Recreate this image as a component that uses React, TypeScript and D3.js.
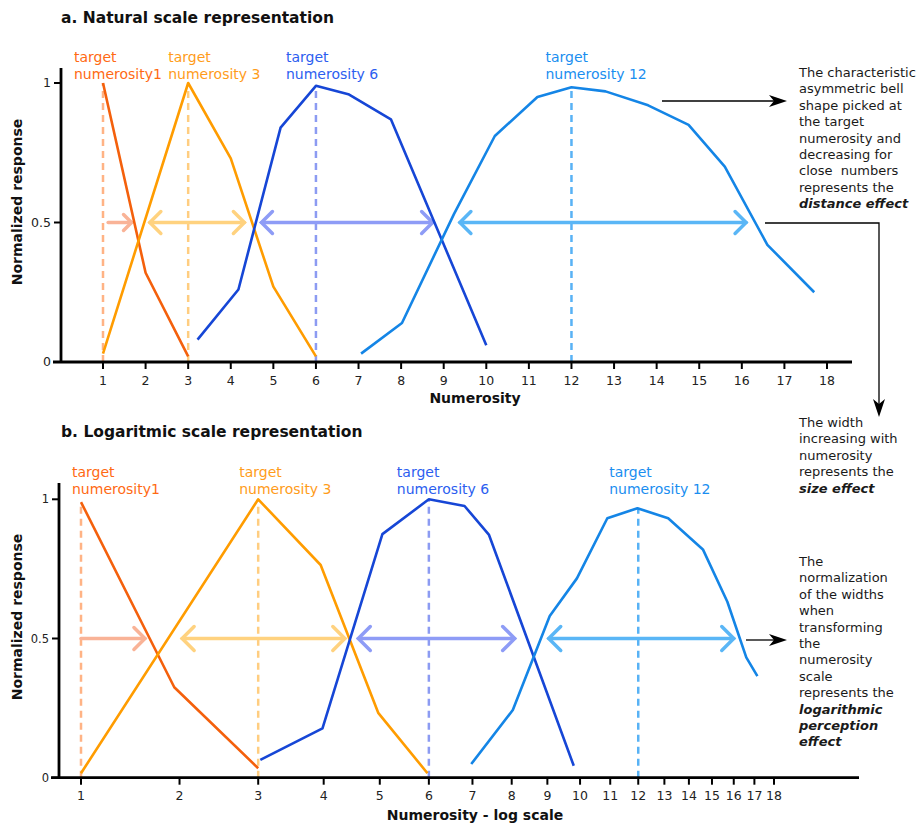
import * as d3 from "d3";

const FONT = "'DejaVu Sans', Verdana, sans-serif";

// --- data ---
const numerosityTicks = [1, 2, 3, 4, 5, 6, 7, 8, 9, 10, 11, 12, 13, 14, 15, 16, 17, 18];
const yTicks = [0, 0.5, 1];
const yTickLabels = ["0", "0.5", "1"];

const targets = [1, 3, 6, 12];
const targetLabels = ["numerosity1", "numerosity 3", "numerosity 6", "numerosity 12"];

// natural scale tuning curves [numerosity, normalized response]
const naturalN1: [number, number][] = [[1, 1], [2, 0.32], [3, 0.02]];
const naturalN3: [number, number][] = [[1, 0.03], [3, 1], [4, 0.73], [5, 0.27], [6, 0.02]];
const naturalN6: [number, number][] = [
  [3.22, 0.08], [4.18, 0.26], [5.17, 0.84], [6, 0.99], [6.76, 0.96], [7.76, 0.87], [10, 0.06],
];
const naturalN12: [number, number][] = [
  [7.06, 0.03], [8.02, 0.14], [9.24, 0.53], [10.2, 0.81], [11.2, 0.95], [12, 0.985],
  [12.8, 0.97], [13.8, 0.92], [14.75, 0.85], [15.6, 0.7], [16.6, 0.42], [17.7, 0.25],
];
// half-height widths (arrows at 0.5)
const naturalSpans: [number, number][] = [[1.12, 1.67], [2.1, 4.32], [4.72, 8.74], [9.38, 16.1]];

// log scale tuning curves
const logN1: [number, number][] = [[1, 0.99], [1.94, 0.325], [3, 0.034]];
const logN3: [number, number][] = [[1, 0.016], [3, 1], [3.95, 0.764], [4.97, 0.233], [5.97, 0.016]];
const logN6: [number, number][] = [
  [3.03, 0.064], [3.98, 0.177], [5.05, 0.875], [6, 1.0], [6.81, 0.976], [7.41, 0.872], [9.8, 0.043],
];
const logN12: [number, number][] = [
  [6.97, 0.049], [8.03, 0.243], [9.07, 0.581], [9.9, 0.716], [10.9, 0.932], [11.97, 0.968],
  [13.15, 0.932], [14.6, 0.82], [15.7, 0.632], [16.6, 0.432], [17.15, 0.365],
];
const logSpans: [number, number][] = [[1, 1.62], [2.03, 4.36], [4.6, 8.08], [9.04, 16.0]];
const doubleHeaded = [false, true, true, true];

const note1 = [
  "The characteristic", "asymmetric bell", "shape picked at", "the target",
  "numerosity and", "decreasing for", "close  numbers", "represents the",
];
const note1Bold = "distance effect";
const note2 = ["The width", "increasing with", "numerosity", "represents the"];
const note2Bold = "size effect";
const note3 = [
  "The", "normalization", "of the widths", "when", "transforming", "the",
  "numerosity", "scale", "represents the",
];
const note3Bold = ["logarithmic", "perception", "effect"];

// --- styles ---
const lineColors = ["#f4600c", "#ff9c00", "#1646d6", "#1485e6"];
const labelColors = ["#ff6a13", "#ff9c1a", "#2c5ef0", "#1a8ef0"];
const dashColors = ["#ffb385", "#ffcd80", "#8c9bf2", "#58b2f5"];
const spanColors = ["#f9b397", "#ffd27f", "#8e9cf6", "#5ab6f6"];

type Scale = (v: number) => number;

function Panel(props: {
  title: string;
  titleY: number;
  xLabel: string;
  x: Scale;
  y: d3.ScaleLinear<number, number>;
  axisX: number;
  axisTop: number;
  axisRight: number;
  tickLabelY: number;
  xLabelY: number;
  yLabelY: number;
  yTickSize: number;
  series: [number, number][][];
  spans: [number, number][];
  labelDx: number[];
  labelY: number;
  headSizes: number[];
}) {
  const { x, y, axisX } = props;
  const y0 = y(0);
  const line = d3
    .line<[number, number]>()
    .x((d) => x(d[0]))
    .y((d) => y(d[1]));

  return (
    <g>
      <text x={61} y={props.titleY} fontFamily={FONT} fontWeight="bold" fontSize={15.5} fill="#111">
        {props.title}
      </text>

      {/* target labels */}
      {targets.map((t, i) => (
        <text
          key={"lab" + t}
          x={x(t) + props.labelDx[i]}
          y={props.labelY}
          fontFamily={FONT}
          fontSize={14}
          fill={labelColors[i]}
        >
          <tspan x={x(t) + props.labelDx[i]}>target</tspan>
          <tspan x={x(t) + props.labelDx[i]} dy={17}>
            {targetLabels[i]}
          </tspan>
        </text>
      ))}

      {/* dashed target lines */}
      {targets.map((t, i) => (
        <line
          key={"dash" + t}
          x1={x(t)}
          x2={x(t)}
          y1={y0}
          y2={y(d3.max(props.series[i], (d) => d[1]) as number)}
          stroke={dashColors[i]}
          strokeWidth={2.5}
          strokeDasharray="7,5"
        />
      ))}

      {/* width arrows at half height */}
      {props.spans.map((s, i) => {
        const ya = y(0.5);
        const xa = x(s[0]);
        const xb = x(s[1]);
        const h = props.headSizes[i];
        return (
          <g key={"span" + i} stroke={spanColors[i]} strokeWidth={3.5} fill="none" strokeLinecap="round">
            <line x1={xa} x2={xb} y1={ya} y2={ya} />
            <polyline points={`${xb - h},${ya - h} ${xb},${ya} ${xb - h},${ya + h}`} />
            {doubleHeaded[i] && (
              <polyline points={`${xa + h},${ya - h} ${xa},${ya} ${xa + h},${ya + h}`} />
            )}
          </g>
        );
      })}

      {/* tuning curves */}
      {props.series.map((s, i) => (
        <path
          key={"curve" + i}
          d={line(s) as string}
          fill="none"
          stroke={lineColors[i]}
          strokeWidth={2.6}
          strokeLinejoin="round"
        />
      ))}

      {/* axes */}
      <line x1={axisX} x2={axisX} y1={props.axisTop} y2={y0} stroke="#000" strokeWidth={2.8} />
      <line x1={axisX - 8} x2={props.axisRight} y1={y0} y2={y0} stroke="#000" strokeWidth={2.8} />
      {yTicks.map((v, i) => (
        <g key={"yt" + v}>
          <line x1={axisX - 7} x2={axisX} y1={y(v)} y2={y(v)} stroke="#000" strokeWidth={2} />
          <text
            x={axisX - 10}
            y={y(v)}
            dy="0.35em"
            textAnchor="end"
            fontFamily={FONT}
            fontSize={props.yTickSize}
            fill="#222"
          >
            {yTickLabels[i]}
          </text>
        </g>
      ))}
      {numerosityTicks.map((v) => (
        <g key={"xt" + v}>
          <line x1={x(v)} x2={x(v)} y1={y0} y2={y0 + 7} stroke="#000" strokeWidth={2} />
          <text
            x={x(v)}
            y={props.tickLabelY}
            textAnchor="middle"
            fontFamily={FONT}
            fontSize={12.5}
            fill="#222"
          >
            {v}
          </text>
        </g>
      ))}
      <text
        x={475}
        y={props.xLabelY}
        textAnchor="middle"
        fontFamily={FONT}
        fontWeight="bold"
        fontSize={14}
        fill="#111"
      >
        {props.xLabel}
      </text>
      <text
        transform={`translate(17,${props.yLabelY}) rotate(-90)`}
        textAnchor="middle"
        dy="0.35em"
        fontFamily={FONT}
        fontWeight="bold"
        fontSize={14}
        fill="#111"
      >
        Normalized response
      </text>
    </g>
  );
}

function Note(props: { x: number; y: number; lines: string[]; bold: string[] }) {
  const lh = 16.4;
  return (
    <text
      x={props.x}
      y={props.y}
      fontFamily={FONT}
      fontSize={13}
      fill="#1a1a1a"
      style={{ whiteSpace: "pre" }}
    >
      {props.lines.map((l, i) => (
        <tspan key={"l" + i} x={props.x} y={props.y + i * lh}>
          {l}
        </tspan>
      ))}
      {props.bold.map((l, i) => (
        <tspan
          key={"b" + i}
          x={props.x}
          y={props.y + (props.lines.length + i) * lh}
          fontWeight="bold"
          fontStyle="italic"
        >
          {l}
        </tspan>
      ))}
    </text>
  );
}

function Dart(props: { x: number; y: number; angle: number }) {
  return (
    <path
      d="M0,0 L-18,-6 L-13,0 L-18,6 Z"
      transform={`translate(${props.x},${props.y}) rotate(${props.angle})`}
      fill="#000"
    />
  );
}

export default function App() {
  const xNatural = d3.scaleLinear().domain([1, 18]).range([103, 827]);
  const yNatural = d3.scaleLinear().domain([0, 1]).range([362, 83]);
  const xLog = d3.scaleSymlog().constant(2.5).domain([1, 18]).range([81, 774]);
  const yLog = d3.scaleLinear().domain([0, 1]).range([777.7, 499.3]);

  return (
    <svg
      width={917}
      height={826}
      viewBox="0 0 917 826"
      style={{ position: "absolute", left: 0, top: 0, background: "#fff" }}
    >
      <rect width={917} height={826} fill="#fff" />
      <Panel
        title="a. Natural scale representation"
        titleY={23}
        xLabel="Numerosity"
        x={xNatural}
        y={yNatural}
        axisX={61}
        axisTop={68}
        axisRight={852}
        tickLabelY={385}
        xLabelY={403}
        yLabelY={202}
        yTickSize={12.5}
        series={[naturalN1, naturalN3, naturalN6, naturalN12]}
        spans={naturalSpans}
        labelDx={[-29, -20, -30, -26]}
        labelY={62}
        headSizes={[8, 11, 11, 11]}
      />
      <Panel
        title="b. Logaritmic scale representation"
        titleY={437}
        xLabel="Numerosity - log scale"
        x={xLog}
        y={yLog}
        axisX={59}
        axisTop={483}
        axisRight={859}
        tickLabelY={800}
        xLabelY={820}
        yLabelY={617}
        yTickSize={11.5}
        series={[logN1, logN3, logN6, logN12]}
        spans={logSpans}
        labelDx={[-9, -19, -32, -29]}
        labelY={477}
        headSizes={[11, 12, 12, 12]}
      />

      <Note x={799} y={77} lines={note1} bold={[note1Bold]} />
      <Note x={799} y={427} lines={note2} bold={[note2Bold]} />
      <Note x={799} y={566} lines={note3} bold={note3Bold} />

      <g stroke="#000" strokeWidth={1.3} fill="none">
        <line x1={662} x2={775} y1={101} y2={101} />
        <polyline points="765,223 879,223 879,405" />
        <line x1={746} x2={775} y1={640} y2={640} />
      </g>
      <Dart x={787} y={101} angle={0} />
      <Dart x={879} y={417} angle={90} />
      <Dart x={787} y={640} angle={0} />
    </svg>
  );
}
